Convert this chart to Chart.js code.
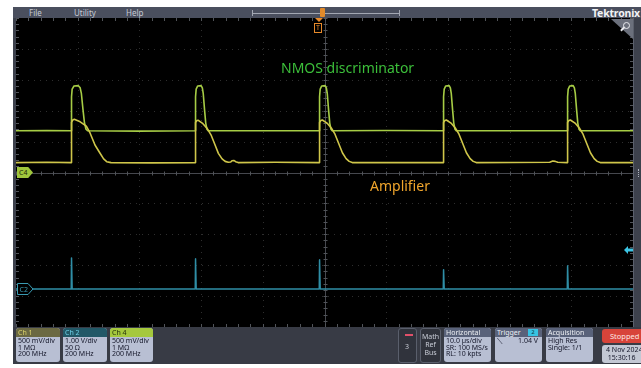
<!DOCTYPE html>
<html>
<head>
<meta charset="utf-8">
<script src="https://cdn.jsdelivr.net/npm/chart.js@4.4.1/dist/chart.umd.min.js"></script>
<style>
html,body{margin:0;padding:0;background:#fff;}
body{position:relative;width:641px;height:368px;overflow:hidden;font-family:"Noto Sans","Open Sans",sans-serif;}
.abs{position:absolute;white-space:nowrap;}
#frame{left:13px;top:7px;width:628px;height:357px;background:#3d414c;}
#menubar{left:13px;top:7px;width:628px;height:11px;background:#4a4f5e;}
.menu{top:7px;font-size:8px;line-height:11px;color:#c5cad4;}
#plotWrap{left:16px;top:18px;width:617px;height:309px;background:#000;}
#bottom{left:13px;top:327px;width:628px;height:37px;background:#383b45;}
.badge{border-radius:3px;overflow:hidden;background:#b8bfd3;}
.bh{height:9px;font-size:7px;line-height:9px;padding-left:2px;}
.bb{font-size:7px;line-height:6.7px;padding:1px 2px;color:#15172a;}
.dark{border:1px solid #5a5f6c;border-radius:3px;background:#30333c;box-sizing:border-box;color:#c8ccd6;font-size:7px;}
</style>
</head>
<body>
<div id="frame" class="abs"></div>
<div id="menubar" class="abs"></div>
<div class="abs menu" style="left:29px">File</div>
<div class="abs menu" style="left:74px">Utility</div>
<div class="abs menu" style="left:126px">Help</div>
<!-- record-length overview bar -->
<div class="abs" style="left:252px;top:10px;width:1px;height:6px;background:#a3a8b3"></div>
<div class="abs" style="left:252px;top:13px;width:148px;height:1px;background:#a3a8b3"></div>
<div class="abs" style="left:399px;top:10px;width:1px;height:6px;background:#a3a8b3"></div>
<div class="abs" style="left:320px;top:8px;width:5px;height:9px;background:#e08a2a;border-radius:1px"></div>
<div class="abs" style="left:592px;top:6px;font-size:10.5px;font-weight:bold;color:#f2f3f5;letter-spacing:-0.2px">Tektronix</div>

<div id="plotWrap" class="abs"><canvas id="scope"></canvas></div>

<!-- right strip -->
<div class="abs" style="left:633px;top:18px;width:8px;height:309px;background:#3d414c;border-left:1px solid #5b606c;box-sizing:border-box"></div>
<div class="abs" style="left:638px;top:169px;width:2px;height:8px;border-left:1px dotted #b0b5c0"></div>

<!-- trace annotations -->
<div class="abs" style="left:281px;top:58px;font-size:14px;color:#3cbf3a">NMOS discriminator</div>
<div class="abs" style="left:370px;top:176px;font-size:14px;color:#f0a52c">Amplifier</div>

<!-- trigger position marker -->
<div class="abs" style="left:315px;top:18px;width:0;height:0;border-left:4px solid transparent;border-right:4px solid transparent;border-top:4px solid #e88a2a"></div>
<div class="abs" style="left:314px;top:23px;width:8px;height:10px;border:1px solid #e88a2a;box-sizing:border-box;color:#e88a2a;font-size:7px;line-height:8px;text-align:center">T</div>

<!-- zoom corner -->
<div class="abs" style="left:611px;top:19px;width:22px;height:20px;background:#6b707c;clip-path:polygon(0 0,100% 0,100% 100%)"></div>
<div class="abs" style="left:623px;top:22px;width:5px;height:5px;border:1.3px solid #e8eaee;border-radius:50%"></div>
<div class="abs" style="left:620px;top:28px;width:5px;height:1.5px;background:#e8eaee;transform:rotate(-45deg)"></div>

<!-- channel ground tags -->
<div class="abs" style="left:17px;top:167px;width:16px;height:11px;background:#9fc63c;clip-path:polygon(0 0,70% 0,100% 50%,70% 100%,0 100%);color:#1d2a08;font-size:7px;line-height:11px;padding-left:2px;box-sizing:border-box">C4</div>
<svg class="abs" style="left:17px;top:283px" width="17" height="12"><polygon points="0.5,0.5 11,0.5 16,6 11,11.5 0.5,11.5" fill="#000" stroke="#3a9ab2" stroke-width="1"/><text x="2.5" y="8.5" font-size="7" fill="#3a9ab2" font-family="Noto Sans">C2</text></svg>
<!-- trigger level arrow -->
<svg class="abs" style="left:624px;top:246px" width="9" height="8"><polygon points="0,4 4,0 4,2.5 9,2.5 9,5.5 4,5.5 4,8" fill="#3cc6e6"/></svg>

<!-- bottom control bar -->
<div id="bottom" class="abs"></div>
<div class="abs badge" style="left:16px;top:328px;width:44px;height:34px">
  <div class="bh" style="background:#6b6942;color:#ddd46a">Ch 1</div>
  <div class="bb">500 mV/div<br>1 MΩ<br>200 MHz</div>
</div>
<div class="abs badge" style="left:63px;top:328px;width:44px;height:34px">
  <div class="bh" style="background:#225867;color:#6fd2ea">Ch 2</div>
  <div class="bb">1.00 V/div<br>50 Ω<br>200 MHz</div>
</div>
<div class="abs badge" style="left:110px;top:328px;width:43px;height:34px">
  <div class="bh" style="background:#a5c83d;color:#1f2c0a">Ch 4</div>
  <div class="bb">500 mV/div<br>1 MΩ<br>200 MHz</div>
</div>

<div class="abs dark" style="left:398px;top:328px;width:19px;height:35px">
  <div class="abs" style="left:6px;top:5px;width:8px;height:1.5px;background:#e0506a"></div>
  <div class="abs" style="left:6px;top:13px">3</div>
</div>
<div class="abs dark" style="left:420px;top:328px;width:21px;height:35px;text-align:center;line-height:8px;padding-top:4px">Math<br>Ref<br>Bus</div>

<div class="abs badge" style="left:444px;top:328px;width:47px;height:34px">
  <div class="bh" style="background:#59627a;color:#eef0f4">Horizontal</div>
  <div class="bb">10.0 µs/div<br>SR: 100 MS/s<br>RL: 10 kpts</div>
</div>
<div class="abs badge" style="left:495px;top:328px;width:47px;height:34px">
  <div class="bh" style="background:#59627a;color:#eef0f4">Trigger<span class="abs" style="left:33px;top:1px;width:10px;height:7px;background:#37c3e3;color:#12323c;line-height:7px;text-align:center;font-size:6px">2</span></div>
  <div class="bb" style="position:relative"><span style="font-size:8px">⟍</span><span class="abs" style="left:23px;top:1px">1.04 V</span></div>
</div>
<div class="abs badge" style="left:546px;top:328px;width:47px;height:34px">
  <div class="bh" style="background:#59627a;color:#eef0f4">Acquisition</div>
  <div class="bb">High Res<br>Single: 1/1</div>
</div>
<div class="abs" style="left:602px;top:329px;width:42px;height:14px;background:#d8443a;border-radius:3px;color:#fde8e4;font-size:7.5px;line-height:14px;padding-left:8px;box-sizing:border-box">Stopped</div>
<div class="abs" style="left:602px;top:345px;width:42px;height:18px;background:#c3c8d4;border-radius:3px;color:#15172a;font-size:7px;line-height:7.5px;padding:1px 0 0 4px;box-sizing:border-box">4 Nov 2024<br>&nbsp;15:30:16</div>

<script>
// Screen scales: time in µs (10 µs/div, 10 divisions), vertical in divisions
const xDivs = [-40, -30, -20, -10, 0, 10, 20, 30, 40];
const yDivs = [-4, -3, -2, -1, 0, 1, 2, 3, 4];

// Ch4 — NMOS discriminator output  [time µs, divisions]
const ch4Wave = [
  [-50, 1.35], [-45, 1.36], [-41.05, 1.35],
  [-41.0, 2.45], [-40.9, 2.7], [-40.6, 2.8], [-39.9, 2.81], [-39.6, 2.74], [-39.4, 2.55], [-39.15, 2.05], [-38.9, 1.6], [-38.65, 1.4], [-38.4, 1.35],
  [-30, 1.34], [-20.95, 1.35],
  [-20.9, 2.45], [-20.8, 2.7], [-20.55, 2.8], [-20.0, 2.81], [-19.8, 2.74], [-19.65, 2.55], [-19.45, 2.05], [-19.25, 1.6], [-19.05, 1.4], [-18.85, 1.35],
  [-10, 1.35], [-0.85, 1.35],
  [-0.8, 2.45], [-0.7, 2.7], [-0.45, 2.8], [0.1, 2.81], [0.3, 2.74], [0.45, 2.55], [0.65, 2.05], [0.85, 1.6], [1.05, 1.4], [1.25, 1.35],
  [10, 1.36], [19.25, 1.35],
  [19.3, 2.45], [19.4, 2.7], [19.65, 2.8], [20.2, 2.81], [20.4, 2.74], [20.55, 2.55], [20.75, 2.05], [20.95, 1.6], [21.15, 1.4], [21.35, 1.35],
  [30, 1.35], [39.35, 1.35],
  [39.4, 2.45], [39.5, 2.7], [39.75, 2.8], [40.3, 2.81], [40.5, 2.74], [40.65, 2.55], [40.85, 2.05], [41.05, 1.6], [41.25, 1.4], [41.45, 1.35],
  [50, 1.35]
];

// Ch1 — amplifier output
const ch1Wave = [
  [-50, 0.32], [-45, 0.33], [-41.05, 0.32],
  [-41.0, 1.62], [-40.8, 1.70], [-40.55, 1.72], [-39.6, 1.64], [-38.6, 1.50], [-38.0, 1.28], [-37.2, 0.89], [-36.4, 0.63], [-35.8, 0.44], [-35.3, 0.35], [-34.6, 0.32],
  [-28, 0.31], [-20.95, 0.32],
  [-20.9, 1.62], [-20.7, 1.68], [-20.45, 1.69], [-19.7, 1.58], [-19.0, 1.42], [-18.4, 1.22], [-17.8, 0.92], [-17.2, 0.62], [-16.6, 0.44], [-16.1, 0.36], [-15.6, 0.33],
  [-15.2, 0.34], [-15.0, 0.38], [-14.7, 0.39], [-14.4, 0.35], [-14.0, 0.32],
  [-8, 0.33], [-0.85, 0.32],
  [-0.8, 1.62], [-0.6, 1.68], [-0.35, 1.70], [0.4, 1.60], [1.1, 1.44], [1.7, 1.24], [2.3, 0.94], [2.9, 0.64], [3.5, 0.45], [4.0, 0.36], [4.5, 0.32],
  [12, 0.32], [19.25, 0.32],
  [19.3, 1.62], [19.5, 1.68], [19.75, 1.70], [20.5, 1.60], [21.2, 1.44], [21.8, 1.24], [22.4, 0.94], [23.0, 0.64], [23.6, 0.45], [24.1, 0.36], [24.6, 0.32],
  [36.5, 0.33], [37.0, 0.37], [37.4, 0.36], [37.8, 0.33], [39.35, 0.32],
  [39.4, 1.62], [39.6, 1.68], [39.85, 1.70], [40.6, 1.60], [41.3, 1.44], [41.9, 1.24], [42.5, 0.94], [43.1, 0.64], [43.7, 0.45], [44.2, 0.36], [44.7, 0.32],
  [50, 0.32]
];

// Ch2 — trigger pulse train (each spike drawn up and back down at its edge time)
const ch2Wave = [
  [-50, -3.77], [-41.05, -3.77], [-41.0, -2.77], [-40.9, -3.77],
  [-20.95, -3.77], [-20.9, -2.79], [-20.8, -3.77],
  [-0.85, -3.77], [-0.8, -2.82], [-0.7, -3.77],
  [19.25, -3.77], [19.3, -3.15], [19.4, -3.77],
  [39.35, -3.77], [39.4, -3.02], [39.5, -3.77],
  [50, -3.77]
];

const toXY = arr => arr.map(([x, y]) => ({ x, y }));

const graticule = {
  id: 'graticule',
  beforeDatasetsDraw(chart) {
    const { ctx, chartArea: a, scales: { x, y } } = chart;
    ctx.save();
    ctx.fillStyle = '#000';
    ctx.fillRect(a.left, a.top, a.width, a.height);
    ctx.lineWidth = 1;
    // dotted division lines
    ctx.strokeStyle = 'rgba(110,110,110,0.42)';
    ctx.setLineDash([1, 5]);
    for (const v of xDivs) {
      if (v === 0) continue;
      const px = Math.round(x.getPixelForValue(v)) + 0.5;
      ctx.beginPath(); ctx.moveTo(px, a.top); ctx.lineTo(px, a.bottom); ctx.stroke();
    }
    for (const v of yDivs) {
      if (v === 0) continue;
      const py = Math.round(y.getPixelForValue(v)) + 0.5;
      ctx.beginPath(); ctx.moveTo(a.left, py); ctx.lineTo(a.right, py); ctx.stroke();
    }
    ctx.setLineDash([]);
    // centre cross
    ctx.strokeStyle = '#46484e';
    const cx = Math.round(x.getPixelForValue(0)) + 0.5;
    const cy = Math.round(y.getPixelForValue(0)) + 0.5;
    ctx.beginPath(); ctx.moveTo(cx, a.top); ctx.lineTo(cx, a.bottom); ctx.stroke();
    ctx.beginPath(); ctx.moveTo(a.left, cy); ctx.lineTo(a.right, cy); ctx.stroke();
    // minor ticks along edges and centre lines
    ctx.strokeStyle = '#515459';
    for (let i = -25; i <= 25; i++) {
      const px = Math.round(x.getPixelForValue(i * 2)) + 0.5;
      ctx.beginPath();
      ctx.moveTo(px, a.top); ctx.lineTo(px, a.top + 3);
      ctx.moveTo(px, a.bottom); ctx.lineTo(px, a.bottom - 3);
      ctx.moveTo(px, cy - 2); ctx.lineTo(px, cy + 2);
      ctx.stroke();
    }
    for (let i = -25; i <= 25; i++) {
      const py = Math.round(y.getPixelForValue(i * 0.2)) + 0.5;
      ctx.beginPath();
      ctx.moveTo(a.left, py); ctx.lineTo(a.left + 3, py);
      ctx.moveTo(a.right, py); ctx.lineTo(a.right - 3, py);
      ctx.moveTo(cx - 2, py); ctx.lineTo(cx + 2, py);
      ctx.stroke();
    }
    ctx.restore();
  }
};

new Chart(document.getElementById('scope'), {
  type: 'line',
  data: {
    datasets: [
      // a tiny tension keeps every sample on the full path (narrow spikes are not merged)
      { label: 'Ch2', data: toXY(ch2Wave), borderColor: '#2f8ea6', borderWidth: 1.5, tension: 0.001 },
      { label: 'Ch1', data: toXY(ch1Wave), borderColor: '#cfc64a', borderWidth: 1.6 },
      { label: 'Ch4', data: toXY(ch4Wave), borderColor: '#a6cc45', borderWidth: 1.6 }
    ]
  },
  options: {
    responsive: true,
    maintainAspectRatio: false,
    animation: false,
    layout: { padding: 0 },
    elements: { point: { radius: 0 }, line: { tension: 0, borderJoinStyle: 'round' } },
    plugins: { legend: { display: false }, tooltip: { enabled: false } },
    scales: {
      x: { type: 'linear', min: -50, max: 50, display: false },
      y: { type: 'linear', min: -5, max: 5, display: false }
    }
  },
  plugins: [graticule]
});
</script>
</body>
</html>
